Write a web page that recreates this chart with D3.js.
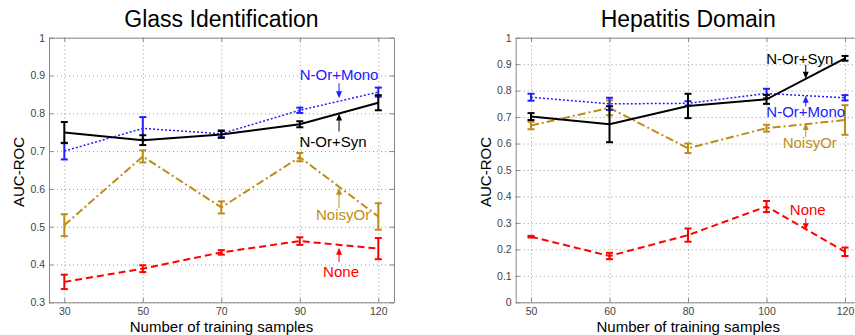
<!DOCTYPE html>
<html lang="en">
<head>
<meta charset="UTF-8">
<title>AUC-ROC vs training samples</title>
<script src="https://d3js.org/d3.v7.min.js"></script>
<style>
    body { margin: 0; background: #fff; font-family: "Liberation Sans", Arial, sans-serif; }
    svg text { font-family: "Liberation Sans", Arial, sans-serif; }
    .tick text { fill: #444; font-size: 10.5px; }
    .frame .domain, .frame line { stroke: #888; }
    .grid line { stroke: #999; stroke-dasharray: 1,3; }
    .grid .domain { display: none; }
</style>
</head>
<body>
<svg id="chart" width="855" height="335"></svg>
<script>
// Glass Identification
const glassTicks = ["30", "50", "70", "90", "120"];
const glassYTicks = [0.3, 0.4, 0.5, 0.6, 0.7, 0.8, 0.9, 1];
const glassNone = [0.354, 0.389, 0.432, 0.462, 0.442];
const glassNoneErr = [0.019, 0.009, 0.006, 0.010, 0.028];
const glassNoisyOr = [0.504, 0.686, 0.551, 0.684, 0.527];
const glassNoisyOrErr = [0.029, 0.016, 0.016, 0.011, 0.035];
const glassMono = [0.700, 0.760, 0.746, 0.808, 0.856];
const glassMonoErr = [0.022, 0.030, 0.009, 0.007, 0.012];
const glassSyn = [0.749, 0.729, 0.744, 0.771, 0.828];
const glassSynErr = [0.028, 0.013, 0.009, 0.008, 0.020];

// Hepatitis Domain
const hepTicks = ["50", "60", "80", "100", "120"];
const hepYTicks = [0, 0.1, 0.2, 0.3, 0.4, 0.5, 0.6, 0.7, 0.8, 0.9, 1];
const hepNone = [0.248, 0.175, 0.254, 0.362, 0.191];
const hepNoneErr = [0.003, 0.012, 0.025, 0.021, 0.016];
const hepNoisyOr = [0.668, 0.735, 0.582, 0.658, 0.689];
const hepNoisyOrErr = [0.014, 0.028, 0.018, 0.013, 0.056];
const hepMono = [0.775, 0.750, 0.752, 0.789, 0.773];
const hepMonoErr = [0.013, 0.023, 0.008, 0.018, 0.010];
const hepSyn = [0.702, 0.673, 0.742, 0.767, 0.922];
const hepSynErr = [0.013, 0.068, 0.046, 0.017, 0.009];

const styles = {
    none:    { label: "None",      color: "#ff0000", dash: "7,4",        width: 2,   dx: 2 },
    noisy:   { label: "NoisyOr",   color: "#bf8c18", dash: "8,3,2,3",    width: 2,   dx: 4 },
    mono:    { label: "N-Or+Mono", color: "#2020ff", dash: "2,2",        width: 1.5, dx: 0 },
    syn:     { label: "N-Or+Syn",  color: "#000000", dash: null,         width: 2,   dx: -6 }
};

const panels = [
    {
        title: "Glass Identification", left: 49, ticks: glassTicks, yTicks: glassYTicks, yDomain: [0.3, 1],
        series: [
            { key: "none", v: glassNone, e: glassNoneErr },
            { key: "noisy", v: glassNoisyOr, e: glassNoisyOrErr },
            { key: "mono", v: glassMono, e: glassMonoErr },
            { key: "syn", v: glassSyn, e: glassSynErr }
        ],
        // tip/tail/base are pixel offsets from the line at the arrow
        notes: [
            { key: "mono", tip: -3, tail: -18, base: -21 },
            { key: "syn", tip: 0, tail: 18, base: 34 },
            { key: "noisy", tip: 1, tail: 21, base: 33 },
            { key: "none", tip: 3, tail: 17, base: 32 }
        ]
    },
    {
        title: "Hepatitis Domain", left: 515.7, ticks: hepTicks, yTicks: hepYTicks, yDomain: [0, 1],
        series: [
            { key: "none", v: hepNone, e: hepNoneErr },
            { key: "noisy", v: hepNoisyOr, e: hepNoisyOrErr },
            { key: "mono", v: hepMono, e: hepMonoErr },
            { key: "syn", v: hepSyn, e: hepSynErr }
        ],
        notes: [
            { key: "syn", tip: 0, tail: -14, base: -15 },
            { key: "mono", tip: 0, tail: 11, base: 21 },
            { key: "noisy", tip: -1, tail: 13, base: 24 },
            { key: "none", tip: 1, tail: -11, base: -14 }
        ]
    }
];

const plotW = 345, plotTop = 37.7, plotBottom = 302.3;
const svg = d3.select("#chart");

panels.forEach(p => {
    const x = d3.scaleLinear().domain([-0.195, 4.2]).range([p.left, p.left + plotW]);
    const y = d3.scaleLinear().domain(p.yDomain).range([plotBottom, plotTop]);
    const idx = d3.range(p.ticks.length);
    const g = svg.append("g");

    // grid
    g.append("g").attr("class", "grid")
        .attr("transform", `translate(0,${plotBottom})`)
        .call(d3.axisBottom(x).tickValues(idx).tickSize(-(plotBottom - plotTop)).tickFormat(""));
    g.append("g").attr("class", "grid")
        .attr("transform", `translate(${p.left},0)`)
        .call(d3.axisLeft(y).tickValues(p.yTicks).tickSize(-plotW).tickFormat(""));

    // frame + ticks
    g.append("g").attr("class", "frame")
        .attr("transform", `translate(0,${plotBottom})`)
        .call(d3.axisBottom(x).tickValues(idx).tickSize(-4).tickSizeOuter(0).tickPadding(5)
            .tickFormat(i => p.ticks[i]));
    g.append("g").attr("class", "frame")
        .attr("transform", `translate(0,${plotTop})`)
        .call(d3.axisTop(x).tickValues(idx).tickSize(-4).tickSizeOuter(0).tickFormat(""));
    g.append("g").attr("class", "frame")
        .attr("transform", `translate(${p.left},0)`)
        .call(d3.axisLeft(y).tickValues(p.yTicks).tickSize(-4).tickSizeOuter(0).tickPadding(4)
            .tickFormat(d3.format("~g")));
    g.append("g").attr("class", "frame")
        .attr("transform", `translate(${p.left + plotW},0)`)
        .call(d3.axisRight(y).tickValues(p.yTicks).tickSize(-4).tickSizeOuter(0).tickFormat(""));

    const cx = p.left + plotW / 2;
    g.append("text").attr("x", cx).attr("y", 27).attr("text-anchor", "middle")
        .style("font-size", "23px").attr("fill", "#000").text(p.title);
    g.append("text").attr("x", cx).attr("y", 332).attr("text-anchor", "middle")
        .style("font-size", "15px").attr("fill", "#000").text("Number of training samples");
    g.append("text").attr("transform", `translate(${p.left - 25},172) rotate(-90)`)
        .attr("text-anchor", "middle").style("font-size", "15px").attr("fill", "#000").text("AUC-ROC");

    // series
    const line = d3.line().x((d, i) => x(i)).y(d => y(d));
    p.series.forEach(s => {
        const st = styles[s.key];
        const sg = g.append("g");
        sg.append("path").datum(s.v)
            .attr("d", line).attr("fill", "none")
            .attr("stroke", st.color).attr("stroke-width", st.width)
            .attr("stroke-dasharray", st.dash);
        s.v.forEach((v, i) => {
            const y1 = y(v + s.e[i]), y2 = y(v - s.e[i]), xi = x(i);
            sg.append("line").attr("x1", xi).attr("x2", xi).attr("y1", y1).attr("y2", y2)
                .attr("stroke", st.color).attr("stroke-width", 2);
            [y1, y2].forEach(yy => {
                sg.append("line").attr("x1", xi - 3.5).attr("x2", xi + 3.5).attr("y1", yy).attr("y2", yy)
                    .attr("stroke", st.color).attr("stroke-width", 2);
            });
        });
    });

    // annotations at midpoint between last two samples
    p.notes.forEach(n => {
        const st = styles[n.key];
        const s = p.series.find(d => d.key === n.key);
        const ax = x(3.5);
        const ly = y((s.v[3] + s.v[4]) / 2);
        const tipY = ly + n.tip, tailY = ly + n.tail;
        const dir = tipY > tailY ? 1 : -1;
        g.append("line").attr("x1", ax).attr("x2", ax).attr("y1", tailY).attr("y2", tipY - dir * 5)
            .attr("stroke", st.color).attr("stroke-width", 1);
        g.append("path")
            .attr("d", `M${ax},${tipY} L${ax - 3},${tipY - dir * 7} L${ax + 3},${tipY - dir * 7} Z`)
            .attr("fill", st.color);
        g.append("text").attr("x", ax + st.dx).attr("y", ly + n.base).attr("text-anchor", "middle")
            .style("font-size", "15px").attr("fill", st.color).text(st.label);
    });
});
</script>
</body>
</html>
